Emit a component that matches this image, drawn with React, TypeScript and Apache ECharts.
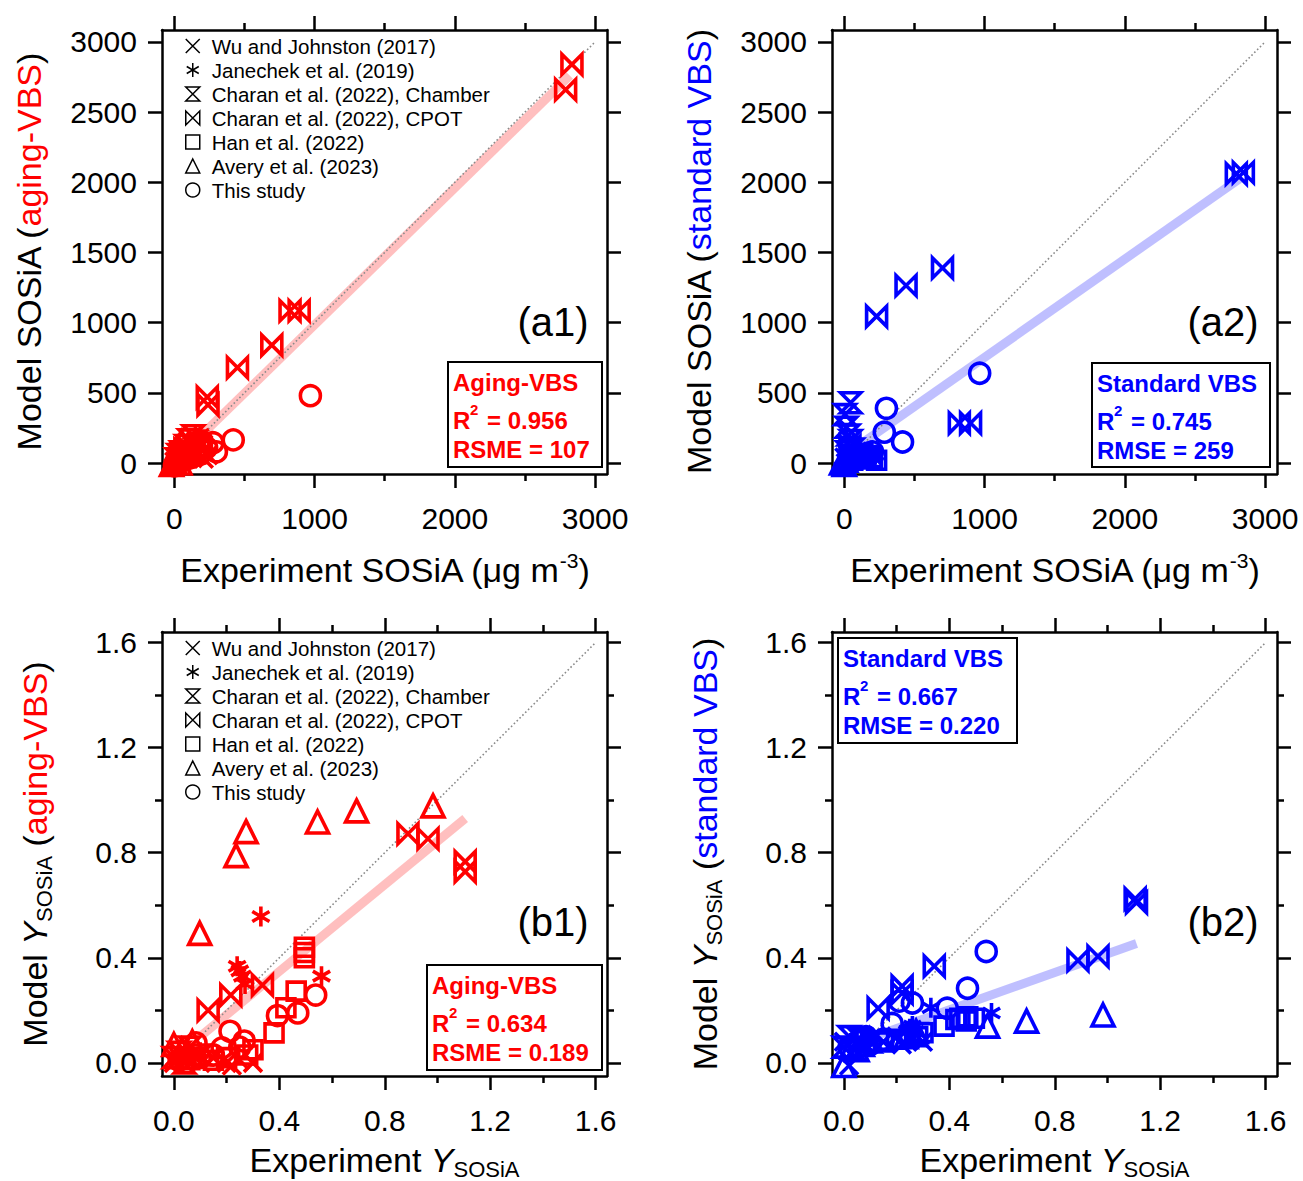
import React, { useEffect, useRef } from "react";
import * as echarts from "echarts";

const FONT = "'Liberation Sans', Arial, Helvetica, sans-serif";
const RED = "#ff0000";
const BLUE = "#0000ff";

const STUDIES = [
  "Wu and Johnston (2017)",
  "Janechek et al. (2019)",
  "Charan et al. (2022), Chamber",
  "Charan et al. (2022), CPOT",
  "Han et al. (2022)",
  "Avery et al. (2023)",
  "This study",
];

// ---- Panel a1: SOSiA, aging-VBS ----
const a1Wu = [[0, 10], [25, 30], [55, 15], [90, 45], [130, 35], [170, 60], [210, 30], [40, 70], [240, 55]];
const a1Jan = [[150, 185], [120, 150], [185, 205], [100, 130], [205, 170], [80, 100], [140, 120], [60, 90]];
const a1Chamber = [[50, 80], [30, 60], [85, 125], [105, 165], [135, 195], [15, 30]];
const a1Cpot = [[2835, 2840], [2790, 2660], [825, 1085], [890, 1085], [695, 840], [450, 680], [235, 470], [240, 415], [45, 55], [75, 95]];
const a1Han = [[100, 60], [150, 95], [60, 40], [200, 115], [180, 145], [120, 80], [80, 50], [40, 20]];
const a1Avery = [[10, 30], [0, 10], [30, 65], [20, 105], [50, 150], [-20, -10], [40, 0]];
const a1This = [[970, 480], [420, 165], [300, 80], [275, 145], [230, 110], [180, 60], [120, 40], [60, 20], [20, 5], [0, -20]];

// ---- Panel a2: SOSiA, standard VBS ----
const a2Wu = [[0, 40], [25, 60], [55, 30], [95, 50], [150, 40], [200, 55], [10, 0], [30, 10]];
const a2Jan = [[100, 70], [150, 80], [195, 90], [220, 60], [180, 50], [60, 40]];
const a2Chamber = [[45, 430], [5, 345], [15, 255], [30, 200], [45, 160], [60, 100], [20, 80]];
const a2Cpot = [[2795, 2060], [2845, 2070], [700, 1390], [440, 1265], [230, 1045], [820, 285], [900, 285], [40, 120]];
const a2Han = [[100, 30], [150, 50], [200, 40], [60, 20], [130, 70], [230, 20]];
const a2Avery = [[0, -10], [10, 20], [30, 50], [-20, 0]];
const a2This = [[965, 640], [300, 390], [285, 220], [415, 150], [200, 80], [150, 60], [100, 30], [50, 10]];

// ---- Panel b1: Y_SOSiA, aging-VBS ----
const b1Wu = [[0.0, 0.0], [0.05, 0.01], [0.1, 0.0], [0.15, 0.02], [0.2, 0.0], [0.25, 0.01], [0.3, 0.0], [0.22, -0.01], [0.02, 0.02]];
const b1Jan = [[0.33, 0.557], [0.24, 0.368], [0.25, 0.35], [0.26, 0.33], [0.27, 0.3], [0.56, 0.33], [0.05, 0.03], [0.1, 0.04]];
const b1Chamber = [[0.02, 0.04], [0.06, 0.06], [0.0, 0.02], [0.1, 0.03], [0.04, 0.0]];
const b1Cpot = [[0.888, 0.872], [0.964, 0.853], [1.105, 0.766], [1.105, 0.728], [0.13, 0.2], [0.216, 0.258], [0.336, 0.296]];
const b1Han = [[0.495, 0.44], [0.495, 0.42], [0.495, 0.4], [0.464, 0.273], [0.425, 0.21], [0.38, 0.114], [0.3, 0.05], [0.28, 0.03], [0.2, 0.02], [0.15, 0.01]];
const b1Avery = [[0.274, 0.88], [0.236, 0.789], [0.545, 0.917], [0.693, 0.959], [0.983, 0.978], [0.098, 0.493], [0.0, 0.07], [0.03, 0.05], [0.07, 0.08], [0.05, 0.02]];
const b1This = [[0.538, 0.258], [0.47, 0.19], [0.393, 0.18], [0.213, 0.12], [0.267, 0.083], [0.183, 0.057], [0.084, 0.076], [0.25, 0.06], [0.15, 0.03], [0.1, 0.02], [0.02, 0.01]];

// ---- Panel b2: Y_SOSiA, standard VBS ----
const b2Wu = [[0.0, 0.08], [0.05, 0.07], [0.1, 0.09], [0.15, 0.08], [0.2, 0.1], [0.25, 0.09], [0.3, 0.08], [0.22, 0.07], [0.02, -0.01]];
const b2Jan = [[0.33, 0.21], [0.24, 0.12], [0.25, 0.13], [0.26, 0.14], [0.27, 0.12], [0.56, 0.19], [0.05, 0.09], [0.1, 0.1]];
const b2Chamber = [[0.02, 0.1], [0.06, 0.09], [0.0, 0.06], [0.1, 0.08], [0.04, 0.05]];
const b2Cpot = [[0.888, 0.39], [0.964, 0.405], [1.105, 0.625], [1.11, 0.61], [0.13, 0.208], [0.221, 0.292], [0.221, 0.265], [0.343, 0.368]];
const b2Han = [[0.495, 0.17], [0.47, 0.175], [0.44, 0.17], [0.464, 0.16], [0.425, 0.165], [0.38, 0.14], [0.3, 0.115], [0.28, 0.1], [0.2, 0.09], [0.15, 0.08]];
const b2Avery = [[0.274, 0.12], [0.236, 0.1], [0.545, 0.14], [0.693, 0.159], [0.983, 0.182], [0.098, 0.09], [0.0, -0.01], [0.03, 0.06], [0.07, 0.07], [0.05, 0.05]];
const b2This = [[0.54, 0.424], [0.469, 0.284], [0.392, 0.208], [0.21, 0.235], [0.26, 0.228], [0.183, 0.15], [0.084, 0.1], [0.25, 0.11], [0.15, 0.09], [0.1, 0.07], [0.02, 0.06]];

// fit lines and 1:1 lines
const fitA1 = [[150, 156], [2820, 2760]];
const fitA2 = [[100, 123], [2820, 2027]];
const fitB1 = [[0.1, 0.1005], [1.105, 0.93]];
const fitB2 = [[0.08, 0.088], [1.11, 0.454]];
const oneA = [[0, 0], [3000, 3000]];
const oneB = [[0, 0], [1.6, 1.6]];

// ticks
const aXMajor = [0, 1000, 2000, 3000];
const aXMinor = [500, 1500, 2500];
const aYMajor = [0, 500, 1000, 1500, 2000, 2500, 3000];
const bMajor = [0, 0.4, 0.8, 1.2, 1.6];
const bMinor = [0.2, 0.6, 1.0, 1.4];

const SYM = [
  "path://M0,0L10,10M10,0L0,10",
  "path://M5,0L5,10M0.7,2.5L9.3,7.5M0.7,7.5L9.3,2.5",
  "path://M0,0L10,0L0,10L10,10Z",
  "path://M0,0L0,10L10,0L10,10Z",
  "rect",
  "triangle",
  "circle",
];
const SIZES = [18, 20, 20, 20, 18, 22, 20];

const LINE = { color: "#000", width: 2.5 };

function axis(gi: number, min: number, max: number, position: string, ticks: number[], len: number, showLine: boolean, extra: any = {}) {
  return {
    type: "value",
    gridIndex: gi,
    position,
    min,
    max,
    offset: 0,
    axisLine: { show: showLine, onZero: false, lineStyle: LINE },
    axisTick: ticks.length
      ? { show: true, inside: false, length: len, customValues: ticks, lineStyle: LINE }
      : { show: false },
    axisLabel: { show: false },
    splitLine: { show: false },
    ...extra,
  };
}

function buildOption() {
  const grids = [
    { left: 162, top: 30, width: 445, height: 444 },
    { left: 832, top: 30, width: 445, height: 444 },
    { left: 162, top: 632, width: 445, height: 445 },
    { left: 832, top: 632, width: 445, height: 445 },
  ];
  const xAxes: any[] = [];
  const yAxes: any[] = [];
  const tickLabel = (fmt: (v: number) => string, vals: number[], margin: number) => ({
    show: true,
    customValues: vals,
    formatter: fmt,
    margin,
    fontSize: 30,
    color: "#000",
    fontFamily: FONT,
  });
  const intFmt = (v: number) => String(Math.round(v));
  const decFmt = (v: number) => v.toFixed(1);

  const titleRich = (col: string) => ({
    t: { fontSize: 34, color: "#000", fontFamily: FONT, lineHeight: 40 },
    r: { fontSize: 34, color: col, fontFamily: FONT, lineHeight: 40 },
    i: { fontSize: 34, color: "#000", fontFamily: FONT, fontStyle: "italic", lineHeight: 40 },
    s: { fontSize: 22, color: "#000", fontFamily: FONT, lineHeight: 12, verticalAlign: "bottom" },
    p: { fontSize: 21, color: "#000", fontFamily: FONT, lineHeight: 14, verticalAlign: "top" },
  });

  const panels = [
    { isA: true, col: RED, yName: "{t|Model SOSiA (}{r|aging-VBS}{t|)}", xName: "{t|Experiment SOSiA (μg m}{p|-3}{t|)}" },
    { isA: true, col: BLUE, yName: "{t|Model SOSiA (}{r|standard VBS}{t|)}", xName: "{t|Experiment SOSiA (μg m}{p|-3}{t|)}" },
    { isA: false, col: RED, yName: "{t|Model }{i|Y}{s|SOSiA}{t| (}{r|aging-VBS}{t|)}", xName: "{t|Experiment }{i|Y}{s|SOSiA}" },
    { isA: false, col: BLUE, yName: "{t|Model }{i|Y}{s|SOSiA}{t| (}{r|standard VBS}{t|)}", xName: "{t|Experiment }{i|Y}{s|SOSiA}" },
  ];

  panels.forEach((pn, p) => {
    const xr = pn.isA ? [-88, 3085] : [-0.045, 1.643];
    const yr = pn.isA ? [-78, 3085] : [-0.05, 1.64];
    const xMaj = pn.isA ? aXMajor : bMajor;
    const xMin = pn.isA ? aXMinor : bMinor;
    const yMaj = pn.isA ? aYMajor : bMajor;
    const yMin = pn.isA ? [] : bMinor;
    const fmt = pn.isA ? intFmt : decFmt;
    xAxes.push(
      axis(p, xr[0], xr[1], "bottom", xMaj, 14, true, {
        axisLabel: tickLabel(fmt, xMaj, 29),
        name: pn.xName,
        nameLocation: "middle",
        nameGap: pn.isA ? 76 : 64,
        nameTextStyle: { fontSize: 34, fontFamily: FONT, color: "#000", rich: titleRich(pn.col) },
      }),
      axis(p, xr[0], xr[1], "bottom", xMin, 7, false),
      axis(p, xr[0], xr[1], "top", xMaj, 14, true),
      axis(p, xr[0], xr[1], "top", xMin, 7, false)
    );
    yAxes.push(
      axis(p, yr[0], yr[1], "left", yMaj, 14, true, {
        axisLabel: tickLabel(fmt, yMaj, 25),
        name: pn.yName,
        nameLocation: "middle",
        nameGap: pn.isA ? 113 : 107,
        nameRotate: 90,
        nameTextStyle: { fontSize: 34, fontFamily: FONT, color: "#000", rich: titleRich(pn.col) },
      }),
      axis(p, yr[0], yr[1], "left", yMin, 7, false),
      axis(p, yr[0], yr[1], "right", yMaj, 14, true),
      axis(p, yr[0], yr[1], "right", yMin, 7, false)
    );
  });

  const panelData = [
    [a1Wu, a1Jan, a1Chamber, a1Cpot, a1Han, a1Avery, a1This],
    [a2Wu, a2Jan, a2Chamber, a2Cpot, a2Han, a2Avery, a2This],
    [b1Wu, b1Jan, b1Chamber, b1Cpot, b1Han, b1Avery, b1This],
    [b2Wu, b2Jan, b2Chamber, b2Cpot, b2Han, b2Avery, b2This],
  ];
  const fits = [fitA1, fitA2, fitB1, fitB2];
  const ones = [oneA, oneA, oneB, oneB];

  const series: any[] = [];
  panelData.forEach((sets, p) => {
    const col = panels[p].col;
    series.push({
      type: "line",
      xAxisIndex: 4 * p,
      yAxisIndex: 4 * p,
      data: fits[p],
      symbol: "none",
      silent: true,
      lineStyle: { color: col === RED ? "rgba(255,0,0,0.25)" : "rgba(0,0,255,0.25)", width: 9 },
      z: 1,
    });
    series.push({
      type: "line",
      xAxisIndex: 4 * p,
      yAxisIndex: 4 * p,
      data: ones[p],
      symbol: "none",
      silent: true,
      lineStyle: { color: "#8a8a8a", width: 1.6, type: [1.6, 2.4] },
      z: 2,
    });
    sets.forEach((d, k) => {
      series.push({
        type: "scatter",
        name: STUDIES[k],
        xAxisIndex: 4 * p,
        yAxisIndex: 4 * p,
        data: d,
        symbol: SYM[k],
        symbolSize: SIZES[k],
        symbolKeepAspect: true,
        itemStyle: { color: "rgba(0,0,0,0)", borderColor: col, borderWidth: 3.6, opacity: 1 },
        emphasis: { disabled: true },
        z: 5,
      });
    });
  });

  const legendBase = {
    orient: "vertical",
    left: 180,
    data: STUDIES,
    itemWidth: 14,
    itemHeight: 14,
    itemGap: 0,
    selectedMode: false,
    itemStyle: { color: "rgba(0,0,0,0)", borderColor: "#000", borderWidth: 1.5 },
    textStyle: { fontSize: 20.5, fontFamily: FONT, color: "#000", lineHeight: 24, padding: [0, 0, 0, 7] },
  };

  const g: any[] = [];
  const label = (t: string, x: number, y: number) =>
    g.push({
      type: "text",
      x,
      y,
      style: { text: t, fill: "#000", font: `40px ${FONT}`, textAlign: "center", textVerticalAlign: "middle", align: "center", verticalAlign: "middle" },
    });
  label("(a1)", 553, 322);
  label("(a2)", 1223, 322);
  label("(b1)", 553, 922);
  label("(b2)", 1223, 922);

  const stat = (x: number, y: number, w: number, h: number, col: string, title: string, r2: string, last: string) => {
    g.push({ type: "rect", shape: { x, y, width: w, height: h }, style: { fill: "#fff", stroke: "#000", lineWidth: 2 }, z: 10 });
    const txt = (t: string, tx: number, ty: number, size: number) =>
      g.push({
        type: "text",
        x: tx,
        y: ty,
        z: 11,
        style: { text: t, fill: col, font: `bold ${size}px ${FONT}`, textAlign: "left", textVerticalAlign: "middle", align: "left", verticalAlign: "middle" },
      });
    txt(title, x + 5, y + 20, 24);
    txt("R", x + 5, y + 58, 24);
    txt("2", x + 22, y + 47, 15);
    txt("= " + r2, x + 39, y + 58, 24);
    txt(last, x + 5, y + 87, 24);
  };
  stat(448, 362, 154, 105, RED, "Aging-VBS", "0.956", "RSME = 107");
  stat(1092, 363, 178, 104, BLUE, "Standard VBS", "0.745", "RMSE = 259");
  stat(427, 965, 175, 105, RED, "Aging-VBS", "0.634", "RSME = 0.189");
  stat(838, 638, 179, 105, BLUE, "Standard VBS", "0.667", "RMSE = 0.220");

  return {
    animation: false,
    backgroundColor: "#fff",
    textStyle: { fontFamily: FONT },
    grid: grids,
    xAxis: xAxes,
    yAxis: yAxes,
    legend: [
      { ...legendBase, top: 29 },
      { ...legendBase, top: 631 },
    ],
    series,
    graphic: g,
  };
}

export default function App() {
  const ref = useRef<HTMLDivElement>(null);
  useEffect(() => {
    const chart = echarts.init(ref.current as HTMLDivElement, null, { renderer: "svg" });
    chart.setOption(buildOption() as any);
    return () => chart.dispose();
  }, []);
  return (
    <div
      ref={ref}
      style={{ position: "absolute", left: 0, top: 0, width: 1303, height: 1181, background: "#fff" }}
    />
  );
}
